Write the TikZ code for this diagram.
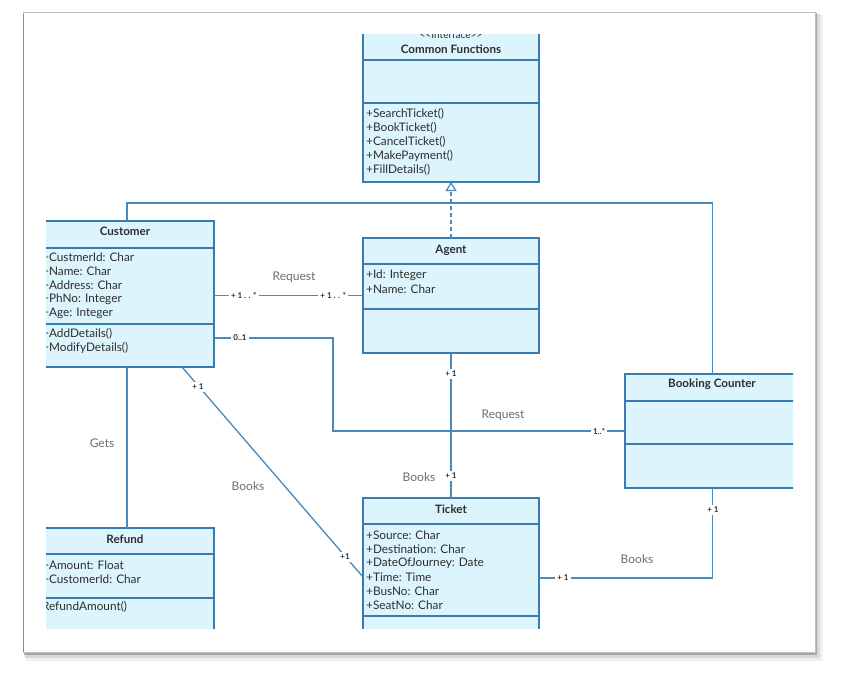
\documentclass[tikz,border=0pt]{standalone}
\usepackage{fontspec}
\setmainfont{Lato}
\usetikzlibrary{arrows.meta}
\definecolor{umlfill}{HTML}{DCF5FC}
\definecolor{umlline}{HTML}{3A7BAF}
\definecolor{connc}{HTML}{4A89B8}
\definecolor{txt}{HTML}{2E2E2E}
\definecolor{lbl}{HTML}{6E6E6E}
\begin{document}
\begin{tikzpicture}[x=1pt,y=-1pt,
  cls/.style={draw=umlline, fill=umlfill, line width=1.4pt, anchor=north west, inner sep=0pt, outer sep=0pt},
  sep/.style={draw=umlline, line width=1.4pt},
  ttl/.style={font=\bfseries\fontsize{11.6}{13}\selectfont, text=txt, inner sep=0pt},
  attr/.style={anchor=west, font=\fontsize{11.8}{13}\selectfont, text=txt, inner sep=0pt},
  conn/.style={draw=connc, line width=1.3pt},
  mult/.style={font=\bfseries\fontsize{8}{9}\selectfont, text=txt, fill=white, inner sep=2pt},
  rlabel/.style={font=\fontsize{12}{13}\selectfont, text=lbl, inner sep=1pt},
]
\useasboundingbox (0,0) rectangle (842,677);
% screenshot frame with shadow
\fill[black!6] (26,15) rectangle (823,661);
\fill[black!15] (25,14) rectangle (820,658);
\fill[black!35] (24,13) rectangle (817,655);
\fill[white] (23,12) rectangle (815,652);
\draw[black!25, line width=0.6pt] (23,12) rectangle (815,652);
\draw[black!45, line width=1pt] (23,14) -- (23,652);

\begin{scope}
\clip (46,35) rectangle (793,628);

% class boxes
\node[cls, minimum width=176, minimum height=164] (cf) at (363,18) {};
\node[cls, minimum width=174, minimum height=146] (cust) at (40,221) {};
\node[cls, minimum width=176, minimum height=115] (agent) at (363,238) {};
\node[cls, minimum width=176, minimum height=142] (ticket) at (363,498) {};
\node[cls, minimum width=175, minimum height=114] (bc) at (625,374) {};
\node[cls, minimum width=174, minimum height=112] (refund) at (40,528) {};

% compartments
\draw[sep] (cf.west |- 0,60) -- (cf.east |- 0,60);
\draw[sep] (cf.west |- 0,103) -- (cf.east |- 0,103);
\draw[sep] (cust.west |- 0,248) -- (cust.east |- 0,248);
\draw[sep] (cust.west |- 0,324) -- (cust.east |- 0,324);
\draw[sep] (agent.west |- 0,264) -- (agent.east |- 0,264);
\draw[sep] (agent.west |- 0,309) -- (agent.east |- 0,309);
\draw[sep] (ticket.west |- 0,524) -- (ticket.east |- 0,524);
\draw[sep] (ticket.west |- 0,616) -- (ticket.east |- 0,616);
\draw[sep] (bc.west |- 0,401) -- (bc.east |- 0,401);
\draw[sep] (bc.west |- 0,444) -- (bc.east |- 0,444);
\draw[sep] (refund.west |- 0,554) -- (refund.east |- 0,554);
\draw[sep] (refund.west |- 0,598) -- (refund.east |- 0,598);

% titles
\node[font=\fontsize{10}{11}\selectfont, text=txt, inner sep=0pt] (cfst) at (451,34.5) {{<}{<}Interface{>}{>}};
\node[ttl] (cft) at (451,49) {Common Functions};
\node[ttl] (custt) at (125,231) {Customer};
\node[ttl] (agentt) at (451,250) {Agent};
\node[ttl] (tickett) at (451,509) {Ticket};
\node[ttl] (bct) at (712,384) {Booking Counter};
\node[ttl] (refundt) at (125,539) {Refund};

% members
\node[attr] (cf1) at (366,114) {+SearchTicket()};
\node[attr] (cf2) at (366,128) {+BookTicket()};
\node[attr] (cf3) at (366,142) {+CancelTicket()};
\node[attr] (cf4) at (366,156) {+MakePayment()};
\node[attr] (cf5) at (366,170) {+FillDetails()};

\node[attr] (cu1) at (42,257) {+CustmerId: Char};
\node[attr] (cu2) at (42,271) {+Name: Char};
\node[attr] (cu3) at (42,285) {+Address: Char};
\node[attr] (cu4) at (42,299) {+PhNo: Integer};
\node[attr] (cu5) at (42,313) {+Age: Integer};
\node[attr] (cu6) at (42,334) {+AddDetails()};
\node[attr] (cu7) at (42,348) {+ModifyDetails()};

\node[attr] (ag1) at (366,275) {+Id: Integer};
\node[attr] (ag2) at (366,289) {+Name: Char};

\node[attr] (ti1) at (366,535) {+Source: Char};
\node[attr] (ti2) at (366,549) {+Destination: Char};
\node[attr] (ti3) at (366,563) {+DateOfJourney: Date};
\node[attr] (ti4) at (366,577) {+Time: Time};
\node[attr] (ti5) at (366,591) {+BusNo: Char};
\node[attr] (ti6) at (366,605) {+SeatNo: Char};

\node[attr] (re1) at (42,565) {+Amount: Float};
\node[attr] (re2) at (42,579) {+CustomerId: Char};
\node[attr] (re3) at (35,607) {+RefundAmount()};

% connectors
\draw[conn] (cust.north) -- ++(0,-18) -| (bc.north);
\draw[conn, dash pattern=on 4pt off 3pt, -{Triangle[open, length=9pt, width=11pt, line width=1.2pt]}] (agent.north) -- (cf.south);

\draw[conn] (cust.east |- agent.west) -- (agent.west)
  node[mult, pos=0.2] (m1) {+ 1 . . *}
  node[mult, pos=0.8] (m2) {+ 1 . . *};
\node[rlabel] (l1) at (294,277) {Request};

\draw[conn] ([yshift=-44pt]cust.east) -- ++(119,0) |- (bc.west);
\node[mult] (m3) at (240,338) {0..1};
\node[mult] (m4) at (599,431) {1..*};
\node[rlabel] (l2) at (503,415) {Request};

\draw[conn] (agent.south) -- (ticket.north);
\node[mult] (m5) at (451,374) {+ 1};
\node[mult] (m6) at (451,476) {+ 1};
\node[rlabel] (l3) at (419,477) {Books};

\draw[conn] ([xshift=55pt]cust.south) -- ([yshift=-8pt]ticket.west);
\node[mult] (m7) at (198,387) {+ 1};
\node[mult] (m8) at (345,557) {+1};
\node[rlabel] (l4) at (248,486) {Books};

\draw[conn] (cust.south) -- (refund.north);
\node[rlabel] (l5) at (102,443) {Gets};

\draw[conn] ([yshift=-9pt]ticket.east) -| (bc.south);
\node[mult] (m9) at (563,578) {+ 1};
\node[mult] (m10) at (713,510) {+ 1};
\node[rlabel] (l6) at (637,559) {Books};
\end{scope}
\end{tikzpicture}
\end{document}
